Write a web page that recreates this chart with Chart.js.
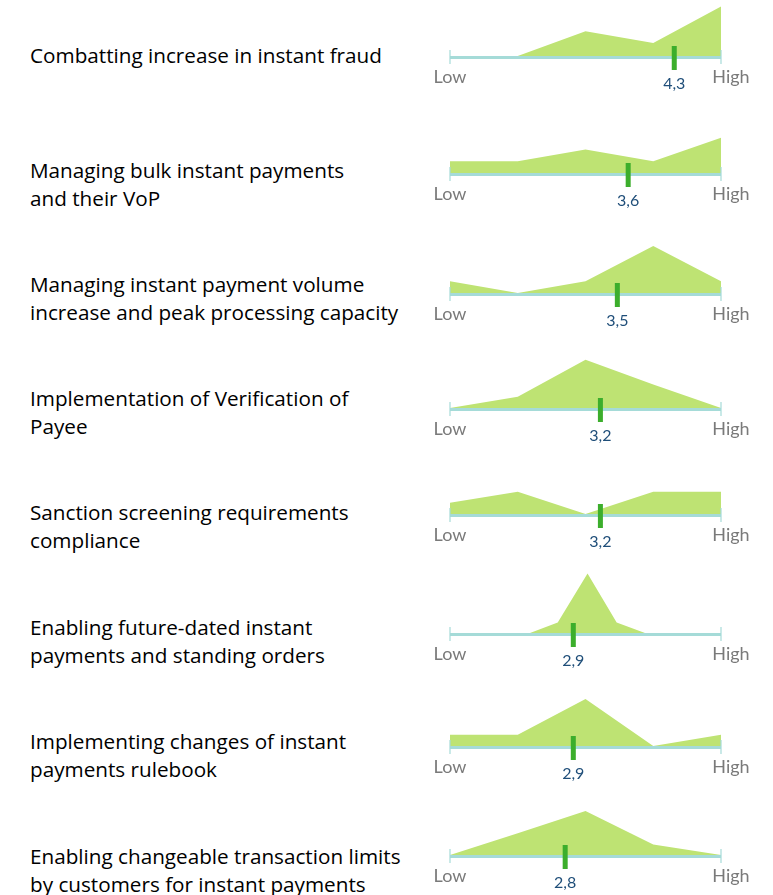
<!DOCTYPE html>
<html>
<head>
<meta charset="utf-8">
<script src="https://cdn.jsdelivr.net/npm/chart.js@4.4.1/dist/chart.umd.min.js"></script>
<style>
  html, body { margin: 0; padding: 0; background: #fff; }
  body { width: 773px; height: 895px; position: relative; overflow: hidden; font-family: Lato, sans-serif; }
  .topic { position: absolute; left: 30px; width: 430px; font-family: "Open Sans", sans-serif; font-size: 20.7px; line-height: 28px; color: #000; white-space: pre-line; }
  canvas { position: absolute; left: 420px; }
</style>
</head>
<body>
<script>
const topics = [
    "Combatting increase in instant fraud",
    "Managing bulk instant payments\nand their VoP",
    "Managing instant payment volume\nincrease and peak processing capacity",
    "Implementation of Verification of\nPayee",
    "Sanction screening requirements\ncompliance",
    "Enabling future-dated instant\npayments and standing orders",
    "Implementing changes of instant\npayments rulebook",
    "Enabling changeable transaction limits\nby customers for instant payments"
];

// answer scale 1 (Low) .. 5 (High)
const levels = [1, 2, 3, 4, 5];
// the future-dated row is drawn squeezed around the middle
const futureLevels = [2.18, 2.59, 3.03, 3.46, 3.88];

// respondents per level
const responses = [
    [0, 0, 2.1, 1.1, 4.2],
    [1, 1, 2, 1, 3],
    [1, 0, 1, 4, 1],
    [0, 0.95, 4.1, 2, 0],
    [0.95, 1.9, 0, 1.9, 1.9],
    [0, 0.9, 5.05, 0.9, 0],
    [0.95, 0.95, 4, 0, 0.95],
    [0, 1.85, 3.75, 0.9, 0]
];

const scores = [4.3, 3.6, 3.5, 3.2, 3.2, 2.9, 2.9, 2.8];
// where the green mark sits on the scale
const markerAt = [4.31, 3.63, 3.47, 3.22, 3.22, 2.82, 2.82, 2.70];

// layout
const rowBase = [56, 173, 293, 408, 514, 633, 746, 855];
const textCenter = [55, 170, 284, 398, 512, 627, 741, 856];

const decor = {
    id: 'decor',
    afterDatasetsDraw(chart, args, opts) {
        const ctx = chart.ctx;
        const x = chart.scales.x;
        const y = chart.scales.y;
        const x1 = x.getPixelForValue(1);
        const x5 = x.getPixelForValue(5);
        const y0 = y.getPixelForValue(0);

        ctx.save();
        ctx.strokeStyle = '#a5dbd8';
        ctx.lineWidth = 3;
        ctx.beginPath();
        ctx.moveTo(x1, y0 + 1.5);
        ctx.lineTo(x5, y0 + 1.5);
        ctx.stroke();

        ctx.lineWidth = 1.2;
        [x1, x5].forEach(function (px) {
            ctx.beginPath();
            ctx.moveTo(px, y0 - 6);
            ctx.lineTo(px, y0 + 8);
            ctx.stroke();
        });

        const mx = x.getPixelForValue(opts.marker);
        ctx.fillStyle = '#3cae2c';
        ctx.fillRect(mx - 2.5, y0 - 10, 5, 24);

        ctx.textAlign = 'center';
        ctx.textBaseline = 'middle';
        ctx.font = '16px Lato';
        ctx.fillStyle = '#1f4e79';
        ctx.fillText(opts.label, mx, y0 + 28);

        ctx.font = '18px Lato';
        ctx.fillStyle = '#7a7a7a';
        ctx.fillText('Low', x1, y0 + 21);
        ctx.fillText('High', x5 + 10, y0 + 21);
        ctx.restore();
    }
};

for (let i = 0; i < topics.length; i++) {
    const div = document.createElement('div');
    div.className = 'topic';
    div.textContent = topics[i];
    div.style.top = (textCenter[i] - 14) + 'px';
    document.body.appendChild(div);

    const canvas = document.createElement('canvas');
    canvas.width = 353;
    canvas.height = 100;
    canvas.style.top = (rowBase[i] - 62) + 'px';
    document.body.appendChild(canvas);

    const xs = i === 5 ? futureLevels : levels;
    const points = [];
    for (let k = 0; k < xs.length; k++) {
        points.push({ x: xs[k], y: responses[i][k] });
    }

    new Chart(canvas.getContext('2d'), {
        type: 'line',
        data: {
            datasets: [{
                data: points,
                fill: 'origin',
                backgroundColor: '#bee373',
                borderColor: 'rgba(0,0,0,0)',
                borderWidth: 0,
                pointRadius: 0,
                tension: 0
            }]
        },
        options: {
            responsive: false,
            animation: false,
            events: [],
            layout: { padding: { left: 30, right: 52, top: 2, bottom: 38 } },
            scales: {
                x: { type: 'linear', min: 1, max: 5, display: false },
                y: { min: 0, max: 5.1, display: false }
            },
            plugins: {
                legend: { display: false },
                tooltip: { enabled: false },
                decor: { marker: markerAt[i], label: String(scores[i]).replace('.', ',') }
            }
        },
        plugins: [decor]
    });
}
</script>
</body>
</html>
